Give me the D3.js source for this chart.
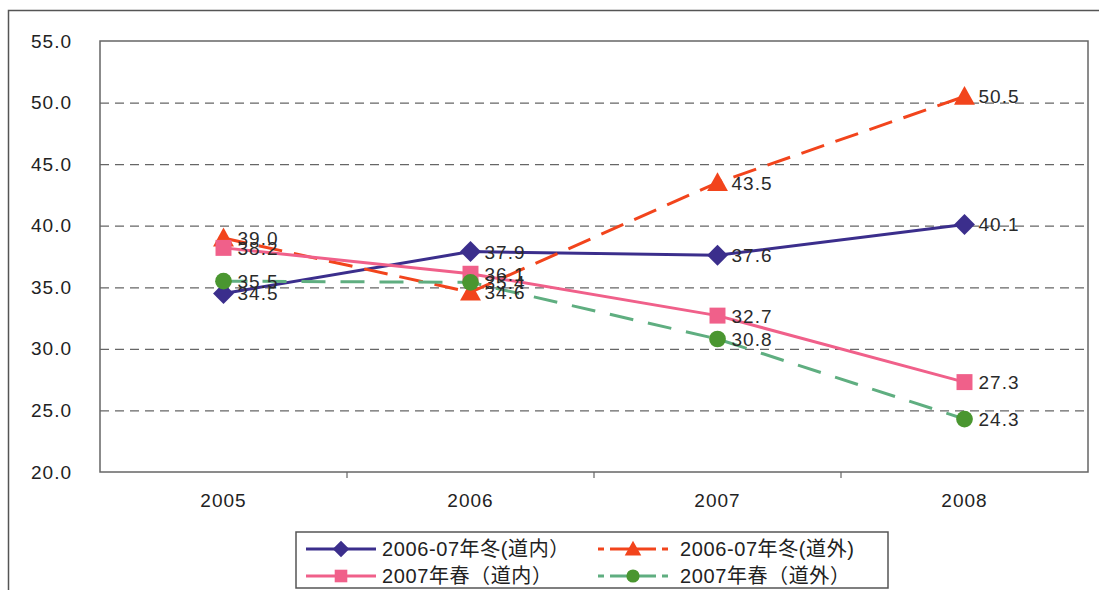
<!DOCTYPE html>
<html>
<head>
<meta charset="utf-8">
<script src="https://cdn.jsdelivr.net/npm/d3@7"></script>
<style>
  html, body { margin: 0; padding: 0; background: #fff; }
  svg { display: block; }
</style>
</head>
<body>
<svg id="chart" width="1099" height="590"></svg>
<script>
// Years on the category axis
const years = ["2005", "2006", "2007", "2008"];
// Value-axis tick labels
const yTicks = [20, 25, 30, 35, 40, 45, 50, 55];

// Series values
const winterInside  = [34.5, 37.9, 37.6, 40.1]; // 2006-07年冬(道内)
const winterOutside = [39.0, 34.6, 43.5, 50.5]; // 2006-07年冬(道外)
const springInside  = [38.2, 36.1, 32.7, 27.3]; // 2007年春(道内)
const springOutside = [35.5, 35.4, 30.8, 24.3]; // 2007年春(道外)

const seriesNames = ["2006-07年冬(道内）", "2006-07年冬(道外)", "2007年春（道内）", "2007年春（道外）"];

const series = [
  { name: seriesNames[0], values: winterInside,  line: "#3b2e8c", fill: "#3b2e8c", dash: null,    marker: "diamond" },
  { name: seriesNames[1], values: winterOutside, line: "#f2441c", fill: "#f2441c", dash: "24,12", marker: "triangle" },
  { name: seriesNames[2], values: springInside,  line: "#f0608a", fill: "#f0608a", dash: null,    marker: "square" },
  { name: seriesNames[3], values: springOutside, line: "#5fae80", fill: "#4a9630", dash: "24,15", marker: "circle" }
];

const svg = d3.select("#chart");
const font = "'Liberation Sans', Arial, 'Noto Sans CJK JP', sans-serif";

// outer frame
svg.append("rect")
  .attr("x", 8.5).attr("y", 10.5)
  .attr("width", 1200).attr("height", 700)
  .attr("fill", "none").attr("stroke", "#555").attr("stroke-width", 1.5);

const plot = { left: 100, right: 1088, top: 41, bottom: 472 };

const x = d3.scaleBand().domain(years).range([plot.left, plot.right]);
const y = d3.scaleLinear().domain([20, 55]).range([plot.bottom, plot.top]);

// dashed gridlines
svg.append("g")
  .selectAll("line")
  .data(yTicks.filter(t => t > 20 && t < 55))
  .join("line")
  .attr("x1", plot.left).attr("x2", plot.right)
  .attr("y1", d => y(d) + 0.5).attr("y2", d => y(d) + 0.5)
  .attr("stroke", "#666").attr("stroke-width", 1.2)
  .attr("stroke-dasharray", "9,6");

// plot border
svg.append("rect")
  .attr("x", plot.left).attr("y", plot.top)
  .attr("width", plot.right - plot.left).attr("height", plot.bottom - plot.top)
  .attr("fill", "none").attr("stroke", "#666").attr("stroke-width", 1.5);

// y axis labels
const yAxis = d3.axisLeft(y).tickValues(yTicks).tickFormat(d3.format(".1f")).tickSize(0).tickPadding(28);
const gy = svg.append("g").attr("transform", `translate(${plot.left},0)`).call(yAxis);
gy.select(".domain").remove();
gy.selectAll("text")
  .attr("font-family", font).attr("font-size", 19).attr("letter-spacing", 1).attr("fill", "#222");

// x axis: ticks between categories
const gx = svg.append("g").attr("transform", `translate(0,${plot.bottom})`);
gx.selectAll("line")
  .data(years.slice(1))
  .join("line")
  .attr("x1", d => x(d)).attr("x2", d => x(d))
  .attr("y1", 0).attr("y2", 6)
  .attr("stroke", "#666").attr("stroke-width", 1.2);
gx.selectAll("text")
  .data(years)
  .join("text")
  .attr("x", d => x(d) + x.bandwidth() / 2)
  .attr("y", 35)
  .attr("text-anchor", "middle")
  .attr("font-family", font).attr("font-size", 19).attr("letter-spacing", 1).attr("fill", "#222")
  .text(d => d);

// marker drawing
function drawMarker(g, type, fill, size) {
  if (type === "diamond") {
    const s = size * 0.55;
    g.append("path").attr("d", `M0,${-s}L${s},0L0,${s}L${-s},0Z`).attr("fill", fill);
  } else if (type === "triangle") {
    const s = size * 0.55;
    g.append("path").attr("d", `M0,${-s}L${s},${s * 0.8}L${-s},${s * 0.8}Z`).attr("fill", fill);
  } else if (type === "square") {
    const s = size * 0.42;
    g.append("rect").attr("x", -s).attr("y", -s).attr("width", 2 * s).attr("height", 2 * s).attr("fill", fill);
  } else {
    g.append("circle").attr("r", size * 0.44).attr("fill", fill);
  }
}

const line = d3.line()
  .x((d, i) => x(years[i]) + x.bandwidth() / 2)
  .y(d => y(d));

const layers = svg.append("g");
series.forEach(s => {
  layers.append("path")
    .datum(s.values)
    .attr("d", line)
    .attr("fill", "none")
    .attr("stroke", s.line)
    .attr("stroke-width", 3)
    .attr("stroke-dasharray", s.dash);
});

series.forEach(s => {
  s.values.forEach((v, i) => {
    const g = layers.append("g")
      .attr("transform", `translate(${x(years[i]) + x.bandwidth() / 2},${y(v)})`);
    drawMarker(g, s.marker, s.fill, 19);
  });
});

// value labels
series.forEach(s => {
  layers.append("g").selectAll("text")
    .data(s.values)
    .join("text")
    .attr("x", (d, i) => x(years[i]) + x.bandwidth() / 2 + 14)
    .attr("y", d => y(d) + 7)
    .attr("font-family", font).attr("font-size", 19).attr("letter-spacing", 1).attr("fill", "#2a2a2a")
    .text(d => d3.format(".1f")(d));
});

// legend
const legend = svg.append("g");
legend.append("rect")
  .attr("x", 296).attr("y", 532).attr("width", 592).attr("height", 56)
  .attr("fill", "#fff").attr("stroke", "#555").attr("stroke-width", 1.5);

const legendPos = [
  { x: 302, y: 549, tx: 382 },
  { x: 594, y: 549, tx: 680 },
  { x: 302, y: 576, tx: 382 },
  { x: 594, y: 576, tx: 680 }
];
series.forEach((s, i) => {
  const p = legendPos[i];
  const g = legend.append("g");
  g.append("line")
    .attr("x1", p.x + 4).attr("x2", p.x + 74)
    .attr("y1", p.y).attr("y2", p.y)
    .attr("stroke", s.line).attr("stroke-width", 3)
    .attr("stroke-dasharray", s.dash ? "20,6" : null)
    .attr("stroke-dashoffset", s.dash ? 14 : 0);
  const m = g.append("g").attr("transform", `translate(${p.x + 39},${p.y})`);
  drawMarker(m, s.marker, s.fill, 15);
  g.append("text")
    .attr("x", p.tx).attr("y", p.y + 7)
    .attr("font-family", font).attr("font-size", 20).attr("letter-spacing", 0.6).attr("fill", "#222")
    .text(s.name);
});
</script>
</body>
</html>
